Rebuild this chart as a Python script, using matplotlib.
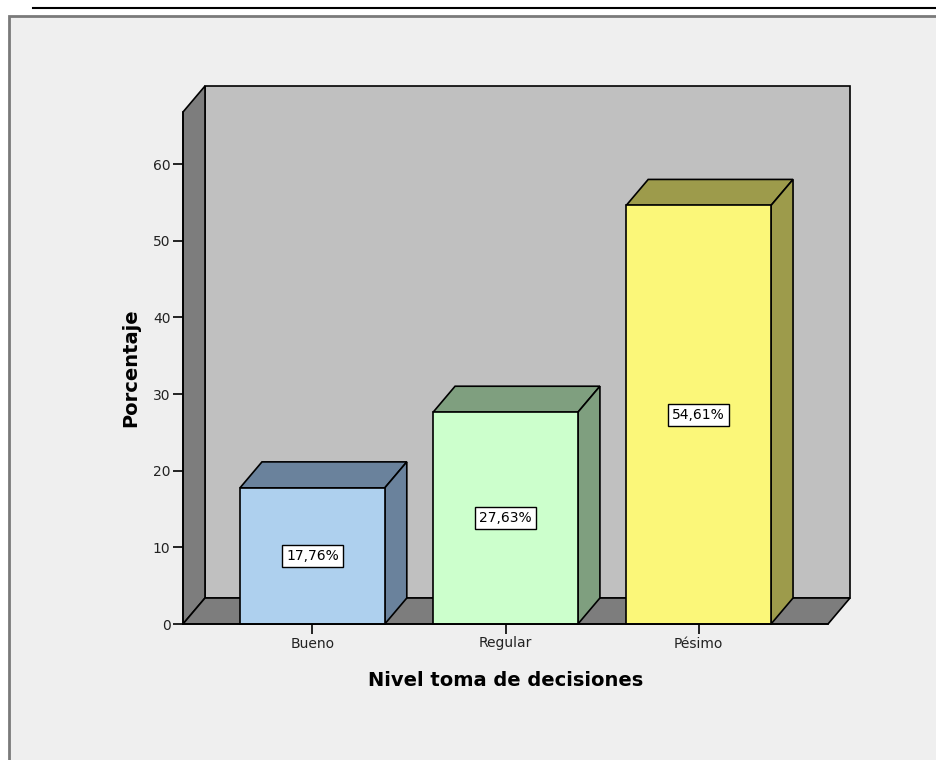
import matplotlib
matplotlib.use("Agg")
import matplotlib.pyplot as plt
from matplotlib.patches import Polygon, Rectangle
from matplotlib.lines import Line2D

# ---- data ----
categories = ["Bueno", "Regular", "Pésimo"]
percentages = [17.76, 27.63, 54.61]
value_labels = ["17,76%", "27,63%", "54,61%"]
front_colors = ["#aed0ee", "#ccffcc", "#fbf779"]
side_colors = ["#6a829c", "#7f9f7f", "#9d9b4b"]
y_ticks = [0, 10, 20, 30, 40, 50, 60]
x_title = "Nivel toma de decisiones"
y_title = "Porcentaje"

plt.rcParams['font.family'] = ['DejaVu Sans']

W, H = 937, 760
fig = plt.figure(figsize=(W / 100, H / 100), dpi=100)
fig.patch.set_facecolor("white")

def fx(px):
    return px / W

def fy(py):
    return 1 - py / H

# panel background and header line
fig.patches.append(Rectangle((fx(9), -0.02), 1.0, fy(16) + 0.02, transform=fig.transFigure,
                             facecolor="#efefef", edgecolor="#7a7a7a", lw=2, zorder=-10))
fig.lines.append(Line2D([fx(33), 1.0], [fy(8), fy(8)], transform=fig.transFigure,
                        color="black", lw=1.5, zorder=-10))

ax = fig.add_axes([fx(183), fy(624), 645 / W, 512 / H])
ax.set_zorder(1)
ax.set_facecolor("none")
x0, x1 = -0.67, 2.67
y0, y1 = 0, 66.8
ax.set_xlim(x0, x1)
ax.set_ylim(y0, y1)

pos = ax.get_position()
ax_w_px = pos.width * W
ax_h_px = pos.height * H
depth_px_x, depth_px_y = 22, 26
dx = depth_px_x / ax_w_px * (x1 - x0)
dy = depth_px_y / ax_h_px * (y1 - y0)

edge = dict(edgecolor="black", lw=1.2, clip_on=False)

# back wall
ax.add_patch(Polygon([(x0 + dx, y0 + dy), (x1 + dx, y0 + dy), (x1 + dx, y1 + dy), (x0 + dx, y1 + dy)],
                     facecolor="#c0c0c0", zorder=0.5, **edge))
# left wall
ax.add_patch(Polygon([(x0, y0), (x0, y1), (x0 + dx, y1 + dy), (x0 + dx, y0 + dy)],
                     facecolor="#7d7d7d", zorder=0.6, **edge))
# floor
ax.add_patch(Polygon([(x0, y0), (x0 + dx, y0 + dy), (x1 + dx, y0 + dy), (x1, y0)],
                     facecolor="#7d7d7d", zorder=0.6, **edge))

bw = 0.75
for i, (v, fc, sc, lab) in enumerate(zip(percentages, front_colors, side_colors, value_labels)):
    l, r = i - bw / 2, i + bw / 2
    # top face
    ax.add_patch(Polygon([(l, v), (r, v), (r + dx, v + dy), (l + dx, v + dy)],
                         facecolor=sc, zorder=1, **edge))
    # side face
    ax.add_patch(Polygon([(r, 0), (r, v), (r + dx, v + dy), (r + dx, dy)],
                         facecolor=sc, zorder=1, **edge))
    # front face
    ax.add_patch(Rectangle((l, 0), bw, v, facecolor=fc, zorder=2, **edge))
    ax.text(i, v / 2, lab, ha="center", va="center", fontsize=10, color="black", zorder=5,
            bbox=dict(boxstyle="square,pad=0.3", facecolor="white", edgecolor="black", lw=1))

for s in ["top", "right"]:
    ax.spines[s].set_visible(False)
for s in ["left", "bottom"]:
    ax.spines[s].set_color("black")
    ax.spines[s].set_linewidth(1.2)
    ax.spines[s].set_zorder(3)

ax.set_xticks(range(len(categories)))
ax.set_xticklabels(categories)
ax.set_yticks(y_ticks)
ax.tick_params(axis="both", direction="out", length=7, width=1.2, color="black",
               labelsize=10, labelcolor="#222222", pad=2)

ax.set_xlabel(x_title, fontsize=14, fontweight="bold", color="black")
ax.set_ylabel(y_title, fontsize=14, fontweight="bold", color="black")
ax.xaxis.set_label_coords(0.5, -0.092)
ax.yaxis.set_label_coords(-0.067, 0.5)

fig.savefig("out.png", dpi=100)
